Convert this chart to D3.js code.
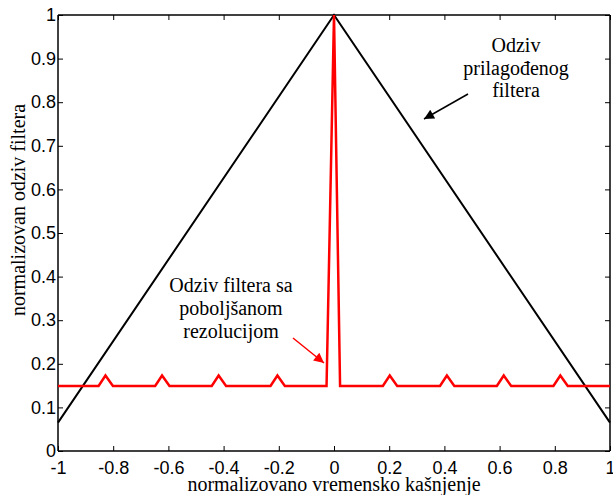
<!DOCTYPE html>
<html><head><meta charset="utf-8">
<script src="https://cdn.jsdelivr.net/npm/d3@7"></script>
<style>html,body{margin:0;padding:0;background:#fff;}svg{display:block;}</style>
</head><body>
<svg id="c" width="613" height="495"></svg>
<script>
// Data
const xTicks = [-1, -0.8, -0.6, -0.4, -0.2, 0, 0.2, 0.4, 0.6, 0.8, 1];
const xTickLabels = ["-1", "-0.8", "-0.6", "-0.4", "-0.2", "0", "0.2", "0.4", "0.6", "0.8", "1"];
const yTicks = [0, 0.1, 0.2, 0.3, 0.4, 0.5, 0.6, 0.7, 0.8, 0.9, 1];
const yTickLabels = ["0", "0.1", "0.2", "0.3", "0.4", "0.5", "0.6", "0.7", "0.8", "0.9", "1"];

// matched filter response (black)
const matchedX = [-1, 0, 1];
const matchedY = [0.065, 1, 0.065];

// improved-resolution filter response (red)
const improvedX = [-1, -0.853, -0.828, -0.801, -0.648, -0.623, -0.596, -0.443, -0.418, -0.391, -0.230, -0.205, -0.178, -0.027, 0, 0.022, 0.177, 0.202, 0.229, 0.384, 0.409, 0.436, 0.590, 0.615, 0.642, 0.795, 0.820, 0.847, 1];
const improvedY = [0.149, 0.149, 0.173, 0.149, 0.149, 0.173, 0.149, 0.149, 0.173, 0.149, 0.149, 0.173, 0.149, 0.149, 1, 0.149, 0.149, 0.173, 0.149, 0.149, 0.173, 0.149, 0.149, 0.173, 0.149, 0.149, 0.173, 0.149, 0.149];

const svg = d3.select("#c");
const L = 58, R = 610, T = 15, B = 451;
const x = d3.scaleLinear().domain([-1, 1]).range([L, R]);
const y = d3.scaleLinear().domain([0, 1]).range([B, T]);

const defs = svg.append("defs");
function marker(id, color) {
  defs.append("marker").attr("id", id).attr("viewBox", "0 0 10 10")
    .attr("refX", 10).attr("refY", 5).attr("markerWidth", 14).attr("markerHeight", 10)
    .attr("markerUnits", "userSpaceOnUse").attr("orient", "auto")
    .append("path").attr("d", "M0,0 L10,5 L0,10 z").attr("fill", color);
}
marker("ab", "#000");
marker("ar", "#f00");

const line = d3.line().x(d => x(d[0])).y(d => y(d[1]));

// axes (inward ticks, box)
const tickLen = 5;
const gBottom = svg.append("g").attr("transform", `translate(0,${B})`)
  .call(d3.axisBottom(x).tickValues(xTicks).tickSize(-tickLen).tickPadding(10).tickFormat((d, i) => xTickLabels[i]));
const gTop = svg.append("g").attr("transform", `translate(0,${T})`)
  .call(d3.axisTop(x).tickValues(xTicks).tickSize(-tickLen).tickFormat(""));
const gLeft = svg.append("g").attr("transform", `translate(${L},0)`)
  .call(d3.axisLeft(y).tickValues(yTicks).tickSize(-tickLen).tickPadding(2).tickFormat((d, i) => yTickLabels[i]));
const gRight = svg.append("g").attr("transform", `translate(${R},0)`)
  .call(d3.axisRight(y).tickValues(yTicks).tickSize(-tickLen).tickFormat(""));
[gBottom, gTop, gLeft, gRight].forEach(g => {
  g.select(".domain").attr("stroke", "#000").attr("stroke-width", 1.5);
  g.selectAll(".tick line").attr("stroke", "#000").attr("stroke-width", 1);
  g.selectAll("text").attr("font-family", "Liberation Sans, Arial, sans-serif").attr("font-size", 18).attr("fill", "#000");
});
gBottom.selectAll(".domain").attr("d", `M${L},0H${R}`);
gTop.selectAll(".domain").attr("d", `M${L},0H${R}`);
gLeft.selectAll(".domain").attr("d", `M0,${B}V${T}`);
gRight.selectAll(".domain").attr("d", `M0,${B}V${T}`);

// series
svg.append("path").datum(matchedX.map((v, i) => [v, matchedY[i]]))
  .attr("d", line).attr("fill", "none").attr("stroke", "#000").attr("stroke-width", 2);
svg.append("path").datum(improvedX.map((v, i) => [v, improvedY[i]]))
  .attr("d", line).attr("fill", "none").attr("stroke", "#f00").attr("stroke-width", 2.5).attr("stroke-linejoin", "miter");

// annotations
const serif = "Liberation Serif, Times New Roman, serif";
function textBlock(lines, cx, y0, dy) {
  const t = svg.append("text").attr("font-family", serif).attr("font-size", 20).attr("text-anchor", "middle").attr("fill", "#000");
  lines.forEach((s, i) => t.append("tspan").attr("x", cx).attr("y", y0 + i * dy).text(s));
}
textBlock(["Odziv", "prilagođenog", "filtera"], 516, 52, 22.5);
textBlock(["Odziv filtera sa", "poboljšanom", "rezolucijom"], 231, 292, 23);

svg.append("line").attr("x1", 468).attr("y1", 94).attr("x2", 424).attr("y2", 119)
  .attr("stroke", "#000").attr("stroke-width", 1.5).attr("marker-end", "url(#ab)");
svg.append("line").attr("x1", 293).attr("y1", 338).attr("x2", 324).attr("y2", 363)
  .attr("stroke", "#f00").attr("stroke-width", 1.5).attr("marker-end", "url(#ar)");

// axis labels
svg.append("text").attr("x", (L + R) / 2).attr("y", 491).attr("text-anchor", "middle")
  .attr("font-family", serif).attr("font-size", 20).text("normalizovano vremensko kašnjenje");
svg.append("text").attr("transform", `translate(25,210) rotate(-90)`).attr("text-anchor", "middle")
  .attr("font-family", serif).attr("font-size", 20).text("normalizovan odziv filtera");
</script>
</body></html>
